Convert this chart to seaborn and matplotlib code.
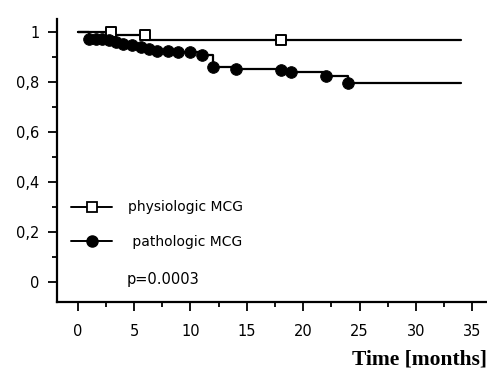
## bibliotecas
import numpy as np
import pandas as pd
import matplotlib
matplotlib.use('Agg')
import matplotlib.pyplot as plt
from matplotlib.lines import Line2D
from matplotlib.ticker import MultipleLocator, FuncFormatter
import seaborn as sns

## dados (Kaplan-Meier)
fisio_t = [0, 3, 6, 34]
fisio_v = [1.0, 0.985, 0.965, 0.965]
fisio_mark_t = [3, 6, 18]
fisio_mark_v = [1.0, 0.985, 0.965]

pato_mark_t = [1.0, 1.6, 2.2, 2.8, 3.4, 4.0, 4.8, 5.6, 6.3, 7.0, 8.0, 8.9, 10.0, 11.0, 12.0, 14.0, 18.0, 18.9, 22.0, 24.0]
pato_mark_v = [0.97, 0.97, 0.972, 0.965, 0.958, 0.952, 0.945, 0.938, 0.93, 0.922, 0.921, 0.917, 0.918, 0.905, 0.86, 0.851, 0.848, 0.837, 0.821, 0.795]
pato_t = [0] + pato_mark_t + [34]
pato_v = [1.0] + pato_mark_v + [pato_mark_v[-1]]

x_ticks = [0, 5, 10, 15, 20, 25, 30, 35]
y_ticks = [0, 0.2, 0.4, 0.6, 0.8, 1.0]

sns.set_style('ticks')
plt.rcParams['font.family'] = ['DejaVu Sans']
plt.rcParams['text.color'] = 'black'
plt.rcParams['xtick.color'] = 'black'
plt.rcParams['ytick.color'] = 'black'
plt.rcParams['axes.labelcolor'] = 'black'

fig = plt.figure(figsize=(4.87, 3.82), dpi=100)
ax = fig.add_axes([0.117, 0.209, 0.883, 0.741])

## curvas em degrau
sns.lineplot(x=fisio_t, y=fisio_v, drawstyle='steps-post', color='black',
             linewidth=1.6, estimator=None, sort=False, ax=ax)
sns.lineplot(x=pato_t, y=pato_v, drawstyle='steps-post', color='black',
             linewidth=1.6, estimator=None, sort=False, ax=ax)

## marcadores
sns.scatterplot(x=fisio_mark_t, y=fisio_mark_v, marker='s', s=55,
                facecolor='white', edgecolor='black', linewidth=1.4, zorder=3, ax=ax)
sns.scatterplot(x=pato_mark_t, y=pato_mark_v, marker='o', s=70,
                color='black', edgecolor='black', zorder=4, ax=ax)

## eixos
ax.set_xlim(-1.83, 36.3)
ax.set_ylim(-0.08, 1.05)
ax.set_xticks(x_ticks)
ax.set_yticks(y_ticks)
ax.xaxis.set_minor_locator(MultipleLocator(2.5))
ax.yaxis.set_minor_locator(MultipleLocator(0.1))
ax.yaxis.set_major_formatter(FuncFormatter(lambda v, p: ('%g' % round(v, 1)).replace('.', ',')))
ax.tick_params(which='major', length=6.5, width=1.3, labelsize=10.5, color='black', labelcolor='black')
ax.tick_params(which='minor', length=3.6, width=1.3, color='black')
ax.tick_params(axis='x', pad=9)
ax.tick_params(axis='y', pad=6)
for s in ['left', 'bottom']:
    ax.spines[s].set_linewidth(1.6)
    ax.spines[s].set_color('black')
sns.despine(ax=ax)

## legenda
handles = [
    Line2D([], [], color='black', linewidth=1.4, marker='s', markersize=7,
           markerfacecolor='white', markeredgecolor='black', markeredgewidth=1.3),
    Line2D([], [], color='black', linewidth=1.4, marker='o', markersize=8,
           markerfacecolor='black'),
]
leg = ax.legend(handles, ['physiologic MCG', ' pathologic MCG'], loc='lower left',
                bbox_to_anchor=(0.003, 0.145), frameon=False, fontsize=10, handlelength=3.0,
                handletextpad=1.1, labelspacing=1.45)
for t in leg.get_texts():
    t.set_color('black')
ax.text(0.162, 0.08, 'p=0.0003', transform=ax.transAxes, fontsize=10.5, va='center', color='black')

## rotulo do eixo x
fig.text(0.999, 0.058, 'Time [months]', ha='right', va='center',
         fontsize=15.5, fontweight='bold', family='Liberation Serif', color='black')

plt.savefig('out.png', dpi=100)
plt.close()
